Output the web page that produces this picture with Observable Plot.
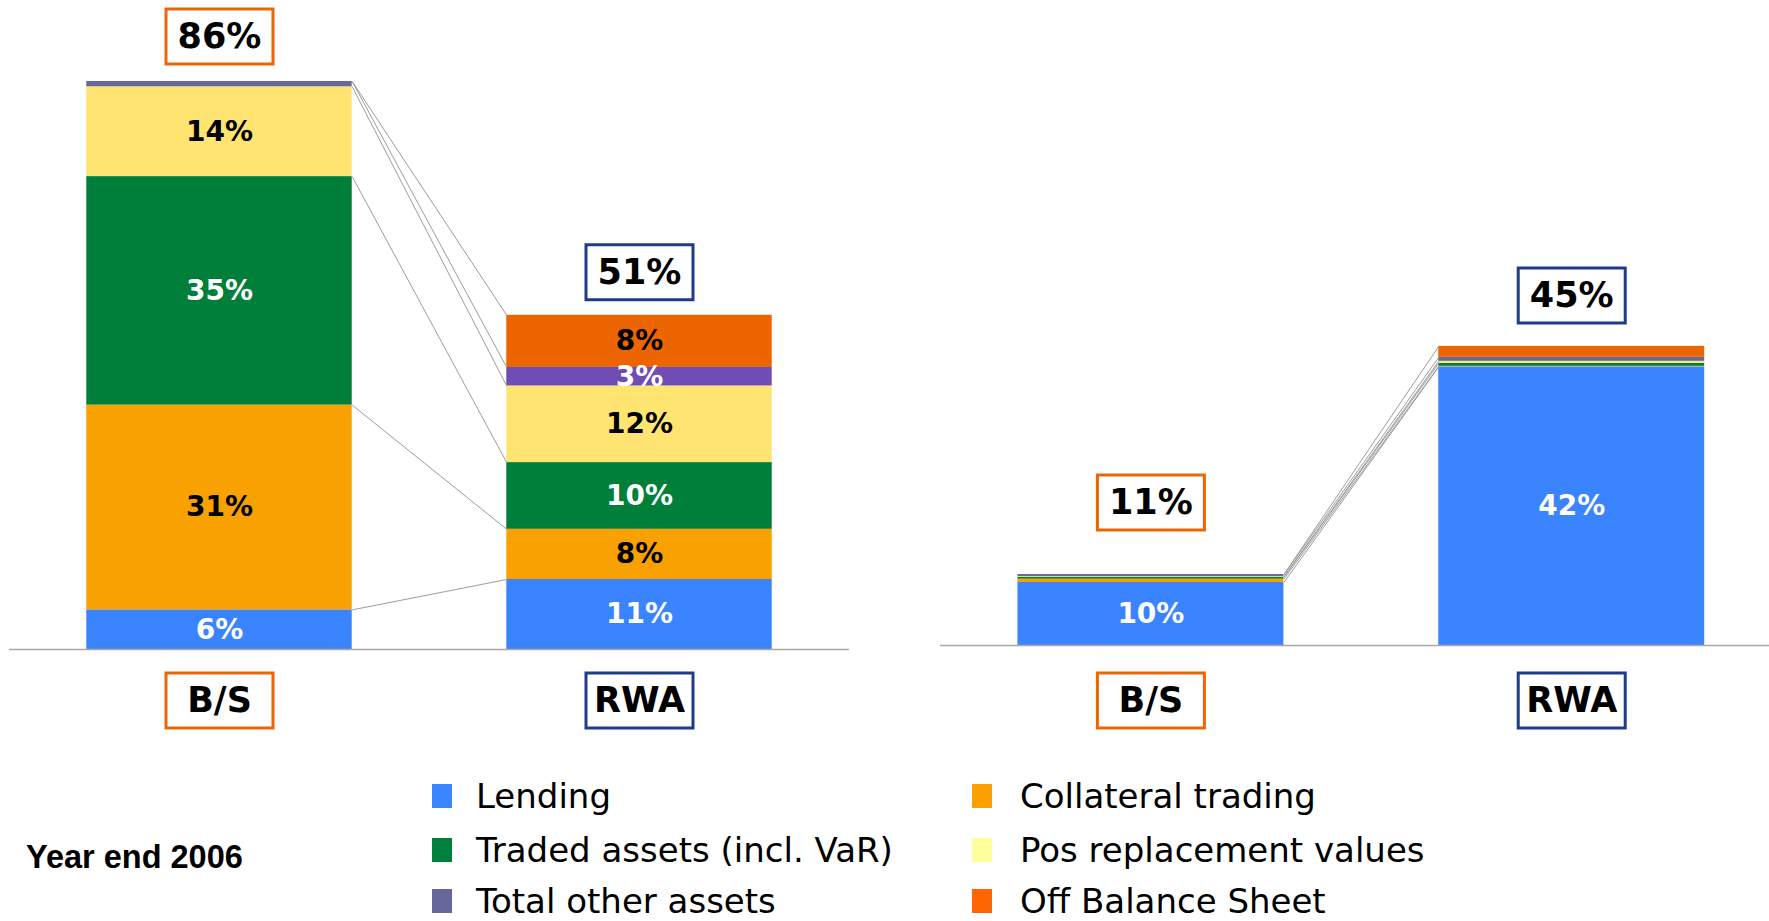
<!DOCTYPE html>
<html><head><meta charset="utf-8">
<script src="https://cdn.jsdelivr.net/npm/d3@7"></script>
<script src="https://cdn.jsdelivr.net/npm/@observablehq/plot@0.6"></script>
<style>
html,body{margin:0;padding:0;background:#fff;overflow:hidden;}
#root{position:relative;width:1769px;height:921px;}
#root > *{position:absolute;top:0;}
</style></head><body><div id="root"></div>
<script>
// ---- data ----
const categories = ["Lending","Collateral trading","Traded assets (incl. VaR)","Pos replacement values","Total other assets","Off Balance Sheet"];
const columns = ["B/S","RWA"];
const leftBS   = [6.0, 31.0, 34.6, 13.6, 0.8, 0];
const leftRWA  = [10.6, 7.6, 10.1, 11.6, 2.8, 7.9];
const rightBS  = [9.5, 0.5, 0.3, 0.1, 0.3, 0];
const rightRWA = [42.0, 0.1, 0.45, 0.3, 0.6, 1.65];
const footnote = "Year end 2006";

// ---- styles ----
const barColors = ["#3A84FF","#F9A100","#007F3A","#FFE472","#68689E","#EC6500"];
const rwaOtherColor = "#704DB5";
const legendColors = ["#3A86FF","#FBA000","#00803A","#FFFF9C","#67679A","#FF6600"];
const labelInk = ["#fff","#000","#fff","#000","#fff","#000"];
const boxEdge = ["#EC6608","#1F3C88"];
const HW = 0.316;

const boxSymbol = {draw(ctx){ ctx.moveTo(-53.5,-27.5); ctx.lineTo(53.5,-27.5); ctx.lineTo(53.5,27.5); ctx.lineTo(-53.5,27.5); ctx.closePath(); }};

const root = document.getElementById("root");

function panel(cfg){
  const series = [cfg.bs, cfg.rwa];
  const rows = [];
  series.forEach((vals, c) => {
    let acc = 0;
    vals.forEach((v, k) => {
      let fill = barColors[k];
      if (cfg.violetOther && c === 1 && k === 4) fill = rwaOtherColor;
      rows.push({col: c, k, v, y1: acc, y2: acc + v, fill});
      acc += v;
    });
  });
  const cum = series.map(vals => Array.from(d3.cumsum(vals)));
  const links = categories.map((cat, k) => ({y1: cum[0][k], y2: cum[1][k]}));
  const totals = series.map((vals, c) => ({col: c, total: d3.sum(vals)}));

  const marks = [
    Plot.rect(rows.filter(d => d.v > 0), {x1: d => d.col - HW, x2: d => d.col + HW, y1: "y1", y2: "y2", fill: "fill"}),
    Plot.link(links, {x1: () => HW, x2: () => 1 - HW, y1: "y1", y2: "y2", stroke: "#9c9c9c", strokeWidth: 1}),
    Plot.ruleY([0], {stroke: "#a8a8a8", strokeWidth: 1.5}),
    Plot.text(rows.filter(d => d.v >= 2), {x: "col", y: d => (d.y1 + d.y2) / 2, text: d => Math.round(d.v) + "%", fill: d => labelInk[d.k], fontSize: 28, fontWeight: "bold"})
  ];
  columns.forEach((name, c) => {
    marks.push(Plot.dot([totals[c]], {x: "col", y: "total", dy: cfg.topDy[c], symbol: boxSymbol, r: 5, fill: "#fff", stroke: boxEdge[c], strokeWidth: 3}));
    marks.push(Plot.text([totals[c]], {x: "col", y: "total", dy: cfg.topDy[c], text: d => Math.round(d.total) + "%", fontSize: 35, fontWeight: "bold", fill: "#000"}));
    marks.push(Plot.dot([{col: c}], {x: "col", y: () => 0, dy: cfg.bottomDy, symbol: boxSymbol, r: 5, fill: "#fff", stroke: boxEdge[c], strokeWidth: 3}));
    marks.push(Plot.text([{col: c, name}], {x: "col", y: () => 0, dy: cfg.bottomDy, text: "name", fontSize: 35, fontWeight: "bold", fill: "#000"}));
  });

  const svg = Plot.plot({
    width: cfg.width, height: 740,
    marginTop: 9, marginBottom: cfg.marginBottom, marginLeft: cfg.marginLeft, marginRight: cfg.marginRight,
    x: {domain: [-0.5, cfg.xMax], axis: null},
    y: {domain: [0, cfg.yMax], axis: null},
    color: {type: "identity"},
    style: {fontFamily: "DejaVu Sans", background: "transparent", overflow: "visible"},
    marks
  });
  svg.style.left = cfg.left + "px";
  root.appendChild(svg);
}

panel({bs: leftBS, rwa: leftRWA, violetOther: true, left: 0, width: 880, marginLeft: 9, marginRight: 31, marginBottom: 91, yMax: 96.9, xMax: 1.5, topDy: [-45, -43], bottomDy: 51});
panel({bs: rightBS, rwa: rightRWA, violetOther: false, left: 880, width: 889, marginLeft: 60, marginRight: 0, marginBottom: 95, yMax: 95.9, xMax: 1.47, topDy: [-72, -51], bottomDy: 55});

// ---- legend & footnote ----
const leg = d3.select(root).append("svg").attr("width", 1769).attr("height", 921).style("left", "0px").style("pointer-events", "none");
const sqX = [432, 972], txX = [476, 1020], rowTop = [784, 838, 889];
categories.forEach((cat, k) => {
  const col = k % 2, row = Math.floor(k / 2);
  leg.append("rect").attr("x", sqX[col]).attr("y", rowTop[row]).attr("width", 20).attr("height", 24).attr("fill", legendColors[k]);
  leg.append("text").attr("x", txX[col]).attr("y", rowTop[row] + 24).attr("font-family", "DejaVu Sans").attr("font-size", 34).attr("fill", "#000").text(cat);
});
leg.append("text").attr("x", 26).attr("y", 868).attr("font-family", "Liberation Sans, Arial").attr("font-weight", "bold").attr("font-size", 32.5).attr("fill", "#000").text(footnote);
</script></body></html>
